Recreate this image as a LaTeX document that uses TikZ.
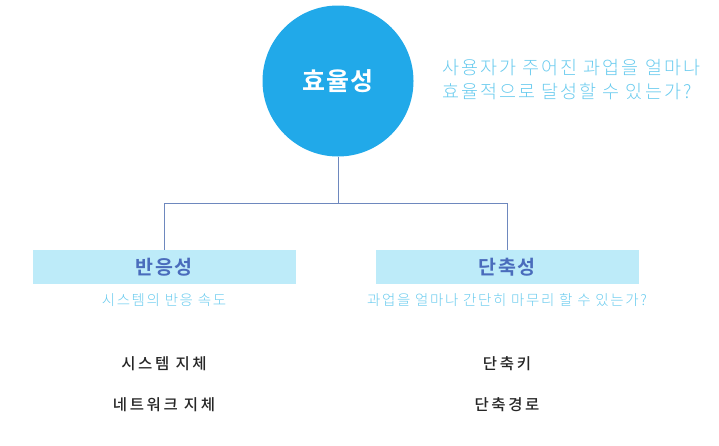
\documentclass[tikz,border=0pt]{standalone}
\usepackage{fontspec}
\setmainfont{Noto Sans CJK KR}
\newfontfamily\krbold{Noto Sans CJK KR Bold}
\newfontfamily\krmedium{Noto Sans CJK KR Medium}
\newfontfamily\krlight{Noto Sans CJK KR Light}
\usepackage{tikz}
\usetikzlibrary{positioning}
\definecolor{circleblue}{HTML}{21A9E9}
\definecolor{boxcyan}{HTML}{BDEBF9}
\definecolor{labelblue}{HTML}{4A6CBC}
\definecolor{hintblue}{HTML}{6ACBEE}
\definecolor{linkgray}{HTML}{6E88BE}
\tikzstyle{link} = [draw=linkgray, line width=1pt]
\tikzstyle{goal} = [circle, fill=circleblue, minimum size=151pt, inner sep=0pt, text=white, font=\krbold\addfontfeatures{LetterSpace=4}\fontsize{25}{28}\selectfont]
\tikzstyle{factor} = [rectangle, fill=boxcyan, minimum width=263pt, minimum height=34pt, text=labelblue, font=\krbold\addfontfeatures{LetterSpace=9}\fontsize{19.5}{22}\selectfont]
\tikzstyle{hint} = [text=hintblue, inner sep=0pt, font=\krlight\addfontfeatures{LetterSpace=11}\fontsize{14.5}{16}\selectfont]
\tikzstyle{item} = [text=black!85, inner sep=0pt, font=\krmedium\addfontfeatures{LetterSpace=17}\fontsize{15.5}{17}\selectfont]

\begin{document}
\begin{tikzpicture}[x=1pt, y=-1pt]
\useasboundingbox (0,0) rectangle (719,445);
%----------------------------------------------------------------------------
% Top goal and its question
\node (efficiency) [goal] at (338,81) {효율성};
\node (question) [hint, anchor=west, align=left, font=\krlight\addfontfeatures{LetterSpace=11}\fontsize{18.5}{24}\selectfont] at (442,80) {사용자가 주어진 과업을 얼마나\\효율적으로 달성할 수 있는가?};

% two factors
\node (response) [factor] at (164,267) {반응성};
\node (shortcut) [factor] at (507,267) {단축성};

\node (responseHint) [hint] at (164,300) {시스템의 반응 속도};
\node (shortcutHint) [hint] at (507,300) {과업을 얼마나 간단히 마무리 할 수 있는가?};

% items under each factor
\node (sysDelay) [item] at (164,364) {시스템 지체};
\node (netDelay) [item, below = 26pt of sysDelay] {네트워크 지체};
\node (shortKey) [item] at (507,364) {단축키};
\node (shortPath) [item, below = 26pt of shortKey] {단축경로};

%----------------------------------------------------------------------------
% Draw lines
\coordinate (split) at (338,203);
\draw [link] (efficiency) -- (split);
\draw [link] (split) -| (response);
\draw [link] (split) -| (shortcut);

\end{tikzpicture}
\end{document}
